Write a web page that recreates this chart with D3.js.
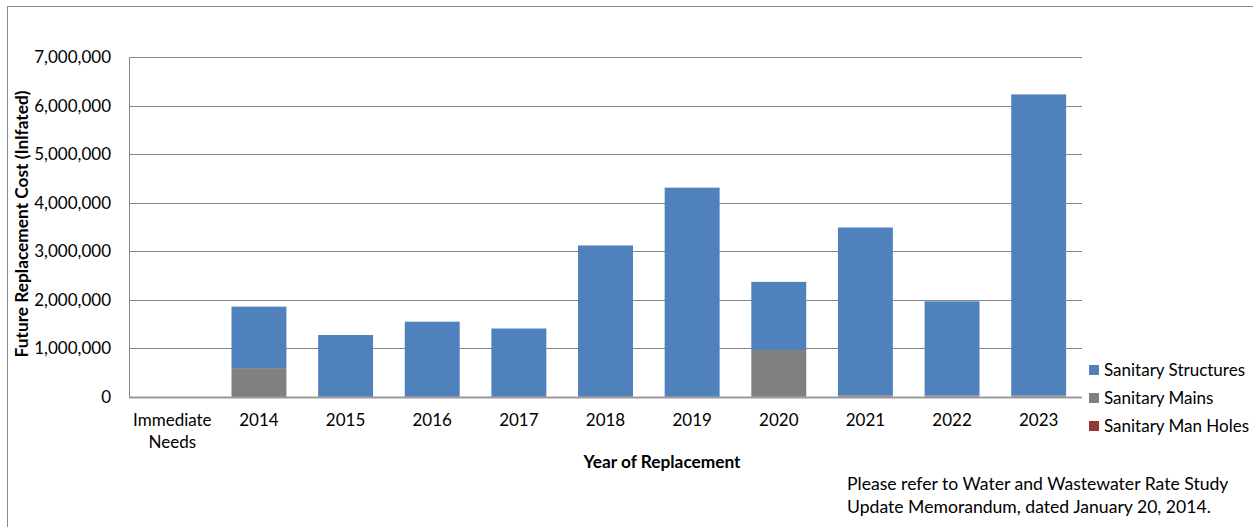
<!DOCTYPE html>
<html>
<head>
<meta charset="utf-8">
<script src="https://cdn.jsdelivr.net/npm/d3@7"></script>
<style>
  html, body { margin: 0; padding: 0; background: #fff; }
  svg { display: block; font-family: Lato, "Open Sans", sans-serif; }
</style>
</head>
<body>
<svg id="chart" width="1253" height="527"></svg>
<script>
// Years of replacement (first entry is a two-line label)
const categories = ["Immediate Needs", "2014", "2015", "2016", "2017", "2018", "2019", "2020", "2021", "2022", "2023"];

// Cost per category, stacked bottom to top: man holes, mains, structures
const sanitaryManHoles  = [0, 0, 5000, 5000, 5000, 5000, 5000, 5000, 10000, 10000, 10000];
const sanitaryMains     = [0, 595000, 0, 0, 0, 0, 0, 962000, 25000, 20000, 20000];
const sanitaryStructures = [0, 1265000, 1271000, 1545000, 1405000, 3115000, 4305000, 1403000, 3455000, 1940000, 6200000];

const yTicks = [0, 1000000, 2000000, 3000000, 4000000, 5000000, 6000000, 7000000];

const seriesNames = ["Sanitary Structures", "Sanitary Mains", "Sanitary Man Holes"];
const seriesColors = ["#4F81BD", "#808080", "#953735"];

const FONT = 17;

const svg = d3.select("#chart");

// Outer chart frame
svg.append("rect")
  .attr("x", 7.5).attr("y", 6.5)
  .attr("width", 1260).attr("height", 540)
  .attr("fill", "#fff").attr("stroke", "#8c8c8c").attr("stroke-width", 1);

const plot = { left: 129, right: 1082, top: 57, bottom: 397 };

const x = d3.scaleBand()
  .domain(categories)
  .range([plot.left, plot.right])
  .paddingInner(0.366)
  .paddingOuter(0.183);

const y = d3.scaleLinear()
  .domain([0, 7000000])
  .range([plot.bottom, plot.top]);

// Horizontal gridlines
svg.append("g")
  .selectAll("line")
  .data(yTicks.slice(1))
  .join("line")
  .attr("x1", plot.left).attr("x2", plot.right)
  .attr("y1", d => Math.round(y(d)) + 0.5).attr("y2", d => Math.round(y(d)) + 0.5)
  .attr("stroke", "#868686").attr("stroke-width", 1);

// Stacked bars
const rows = categories.map((c, i) => ({
  cat: c,
  manholes: sanitaryManHoles[i],
  mains: sanitaryMains[i],
  structures: sanitaryStructures[i]
}));
const stack = d3.stack().keys(["manholes", "mains", "structures"]);
const layers = stack(rows);
const layerColor = { manholes: "#953735", mains: "#808080", structures: "#4F81BD" };

svg.append("g")
  .selectAll("g")
  .data(layers)
  .join("g")
  .attr("fill", d => layerColor[d.key])
  .selectAll("rect")
  .data(d => d)
  .join("rect")
  .attr("x", d => x(d.data.cat))
  .attr("width", x.bandwidth())
  .attr("y", d => y(d[1]))
  .attr("height", d => Math.max(0, y(d[0]) - y(d[1])));

// Value axis
const yAxis = d3.axisLeft(y)
  .tickValues(yTicks)
  .tickFormat(d3.format(","))
  .tickSize(0)
  .tickPadding(18);
const yg = svg.append("g")
  .attr("transform", `translate(${plot.left},0)`)
  .call(yAxis);
yg.select(".domain").attr("stroke", "#868686");
yg.selectAll("text").attr("font-size", FONT).attr("fill", "#000").attr("font-family", "Lato, sans-serif");

// Category axis
const xAxis = d3.axisBottom(x).tickSize(0).tickPadding(0);
const xg = svg.append("g")
  .attr("transform", `translate(0,${plot.bottom})`)
  .call(xAxis);
xg.select(".domain").remove();
xg.selectAll("text").remove();
xg.selectAll(".tick").each(function(d) {
  const lines = d === "Immediate Needs" ? ["Immediate", "Needs"] : [d];
  const t = d3.select(this).append("text")
    .attr("text-anchor", "middle")
    .attr("font-size", FONT)
    .attr("fill", "#000")
    .attr("font-family", "Lato, sans-serif");
  lines.forEach((l, i) => t.append("tspan").attr("x", 0).attr("y", 29 + i * 22).text(l));
});
// Baseline
svg.append("line")
  .attr("x1", plot.left).attr("x2", plot.right)
  .attr("y1", plot.bottom + 0.5).attr("y2", plot.bottom + 0.5)
  .attr("stroke", "#9a9a9a").attr("stroke-width", 2);

// Axis titles
svg.append("text")
  .attr("x", 662).attr("y", 468)
  .attr("text-anchor", "middle")
  .attr("font-size", 17.3).attr("font-weight", "bold")
  .text("Year of Replacement");

svg.append("text")
  .attr("transform", "translate(28,224) rotate(-90)")
  .attr("text-anchor", "middle")
  .attr("font-size", 17.3).attr("font-weight", "bold")
  .text("Future Replacement Cost (Inlfated)");

// Legend
const legend = svg.append("g").attr("transform", "translate(1089,370)");
seriesNames.forEach((name, i) => {
  const g = legend.append("g").attr("transform", `translate(0,${i * 28})`);
  g.append("rect").attr("x", 0).attr("y", -5).attr("width", 10).attr("height", 10).attr("fill", seriesColors[i]);
  g.append("text").attr("x", 15).attr("y", 6).attr("font-size", FONT).text(name);
});

// Footnote
const note = svg.append("text").attr("font-size", 17.6).attr("fill", "#000");
note.append("tspan").attr("x", 847).attr("y", 490).text("Please refer to Water and Wastewater Rate Study");
note.append("tspan").attr("x", 847).attr("y", 513).text("Update Memorandum, dated January 20, 2014.");
</script>
</body>
</html>
